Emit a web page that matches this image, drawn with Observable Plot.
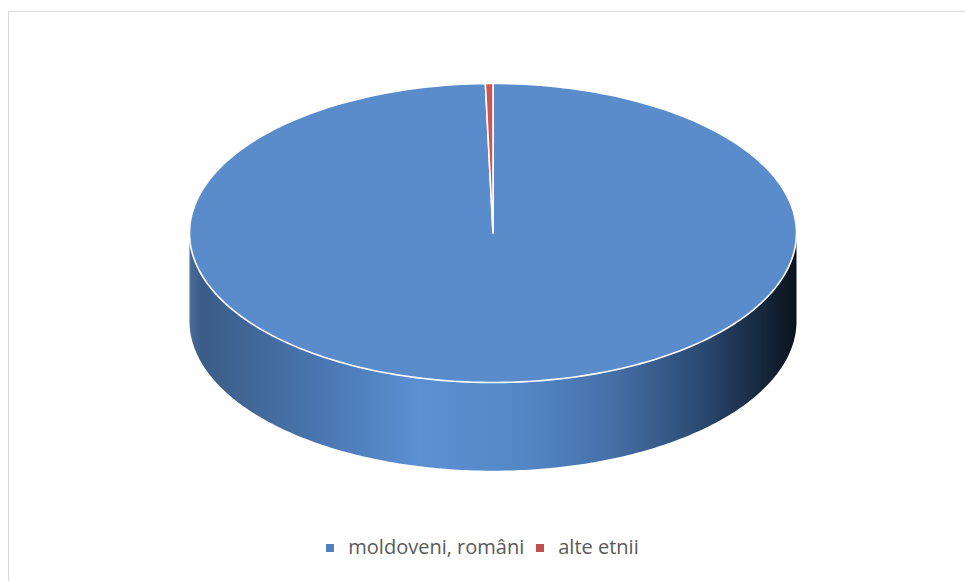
<!DOCTYPE html>
<html>
<head>
<meta charset="utf-8">
<script src="https://cdn.jsdelivr.net/npm/d3@7"></script>
<script src="https://cdn.jsdelivr.net/npm/@observablehq/plot@0.6"></script>
<style>
  html, body { margin: 0; padding: 0; background: #fff; }
  #wrap { position: relative; width: 965px; height: 581px; overflow: hidden; }
  #frame { position: absolute; left: 8px; top: 11px; width: 1000px; height: 1000px; border: 1px solid #d9d9d9; box-sizing: border-box; }
  #chart { position: absolute; left: 0; top: 0; }
  #legend { position: absolute; left: 0; width: 965px; top: 533px; text-align: center; font-family: "Open Sans", Lato, sans-serif; font-size: 20px; color: #595959; white-space: nowrap; }
  #legend span.item { display: inline-block; margin: 0 6px; }
  #legend span.sw { display: inline-block; width: 8px; height: 8px; margin-right: 14px; vertical-align: middle; position: relative; top: -1px; }
</style>
</head>
<body>
<div id="wrap">
  <div id="frame"></div>
  <div id="chart"></div>
  <div id="legend"></div>
</div>
<script>
const categories = ["moldoveni, români", "alte etnii"];
const values = [99.6, 0.4];
const topColors = ["#5a8bcb", "#cf5550"];
const legendColors = ["#4f81bd", "#c0504d"];

const depth = 0.59;      // side thickness in y-units of the unit ellipse
const N = 240;

// Slices via d3.pie, clockwise from 12 o'clock
const arcs = d3.pie().sort(null).startAngle(0).endAngle(2 * Math.PI)(values);

function slicePoints(a) {
  const pts = [{x: 0, y: 0}];
  const n = Math.max(2, Math.ceil((a.endAngle - a.startAngle) / (2 * Math.PI) * N));
  for (let i = 0; i <= n; i++) {
    const t = a.startAngle + (a.endAngle - a.startAngle) * i / n;
    pts.push({x: Math.sin(t), y: Math.cos(t)});
  }
  return pts;
}

// Front side wall (visible half: angles 90°..270°)
const side = [];
for (let i = 0; i <= N; i++) {
  const t = Math.PI / 2 + Math.PI * i / N;
  side.push({x: Math.sin(t), y: Math.cos(t)});
}
for (let i = N; i >= 0; i--) {
  const t = Math.PI / 2 + Math.PI * i / N;
  side.push({x: Math.sin(t), y: Math.cos(t) - depth});
}

const marks = [
  Plot.line(side, {x: "x", y: "y", curve: "linear-closed", fill: "url(#sideGrad)", stroke: "none"})
];
arcs.forEach((a, i) => {
  marks.push(Plot.line(slicePoints(a), {x: "x", y: "y", curve: "linear-closed", fill: topColors[i], stroke: "white", strokeWidth: 1.6, strokeLinejoin: "round"}));
});

const svg = Plot.plot({
  width: 965,
  height: 520,
  margin: 0,
  x: {domain: [-1, 1], range: [189, 796], axis: null},
  y: {domain: [-1, 1], range: [382, 83], axis: null},
  style: {background: "transparent", overflow: "visible"},
  marks
});

const defs = d3.select(svg).insert("defs", ":first-child");
const g = defs.append("linearGradient").attr("id", "sideGrad").attr("x1", "0").attr("x2", "1").attr("y1", "0").attr("y2", "0");
[
  [0.0, "#4a6c98"],
  [0.02, "#3b5c87"],
  [0.2, "#4874ad"],
  [0.38, "#5b90d3"],
  [0.55, "#5487c6"],
  [0.7, "#456fa6"],
  [0.84, "#2c4a72"],
  [0.95, "#15253a"],
  [1.0, "#0a121c"]
].forEach(([o, c]) => g.append("stop").attr("offset", o).attr("stop-color", c));

document.getElementById("chart").appendChild(svg);

const legend = document.getElementById("legend");
categories.forEach((c, i) => {
  const item = document.createElement("span");
  item.className = "item";
  const sw = document.createElement("span");
  sw.className = "sw";
  sw.style.background = legendColors[i];
  item.appendChild(sw);
  item.appendChild(document.createTextNode(c));
  legend.appendChild(item);
});
</script>
</body>
</html>
